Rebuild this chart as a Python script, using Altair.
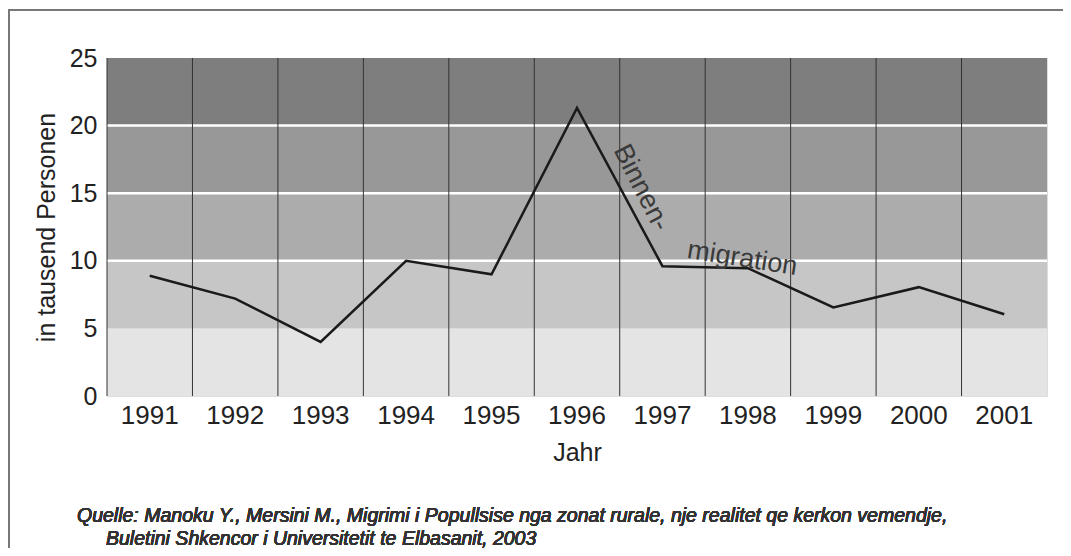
import altair as alt
import pandas as pd

years = ["1991", "1992", "1993", "1994", "1995", "1996", "1997", "1998", "1999", "2000", "2001"]
values = [8.9, 7.2, 4.0, 10.0, 9.0, 21.3, 9.6, 9.45, 6.55, 8.05, 6.05]

band_lo = [0, 5, 10, 15, 20]
band_hi = [5, 10, 15, 20, 25]
band_colors = ["#e4e4e4", "#c6c6c6", "#acacac", "#989898", "#7e7e7e"]
separators = [10, 15, 20]

ann_text = ["Binnen-", "migration"]
ann_year = ["1996", "1997"]
ann_value = [15.3, 10.2]

W, H = 940, 338

df = pd.DataFrame({"year": years, "value": values})
bands = pd.DataFrame({"lo": band_lo, "hi": band_hi, "c": band_colors})
seps = pd.DataFrame({"v": separators})
ann = pd.DataFrame({"t": ann_text, "year": ann_year, "value": ann_value})

xs = alt.Scale(domain=years, paddingInner=0, paddingOuter=0)
ys = alt.Scale(domain=[0, 25], nice=False)

font = "Liberation Sans"

rects = alt.Chart(bands).mark_rect().encode(
    x=alt.value(0), x2=alt.value(W),
    y=alt.Y("lo:Q", scale=ys, axis=alt.Axis(values=[0, 5, 10, 15, 20, 25], ticks=False, domain=False,
                                           grid=False, labelFontSize=25, labelPadding=10,
                                           labelColor="#222", title="in tausend Personen",
                                           titleFontSize=25, titleFontWeight="normal",
                                           titleColor="#222", titlePadding=10)),
    y2="hi:Q",
    color=alt.Color("c:N", scale=None),
)

sep_rules = alt.Chart(seps).mark_rule(color="white", strokeWidth=2.5).encode(
    y=alt.Y("v:Q", scale=ys), x=alt.value(0), x2=alt.value(W)
)

vlines = alt.Chart(df).mark_rule(color="#333", strokeWidth=1).encode(
    x=alt.X("year:O", scale=xs, bandPosition=0,
            axis=alt.Axis(labelAngle=0, ticks=False, domain=False, labelFontSize=26,
                          labelPadding=6, labelColor="#222", title="Jahr", titleFontSize=25,
                          titleFontWeight="normal", titleColor="#222", titlePadding=12)),
)

line = alt.Chart(df).mark_line(color="#1a1a1a", strokeWidth=2.5).encode(
    x=alt.X("year:O", scale=xs),
    y=alt.Y("value:Q", scale=ys),
)

ann1 = alt.Chart(ann.iloc[[0]]).mark_text(
    font=font, fontSize=27, angle=63, dx=28, dy=-58, align="center", baseline="middle",
    color="#3a3a3a"
).encode(x=alt.X("year:O", scale=xs), y=alt.Y("value:Q", scale=ys), text="t:N")

ann2 = alt.Chart(ann.iloc[[1]]).mark_text(
    font=font, fontSize=27, angle=9, dx=79, dy=-12, align="center", baseline="middle",
    color="#3a3a3a"
).encode(x=alt.X("year:O", scale=xs), y=alt.Y("value:Q", scale=ys), text="t:N")

frame = alt.Chart(df).mark_rect(fill=None, stroke="#777", strokeWidth=2).encode(
    x=alt.value(-98), x2=alt.value(957), y=alt.value(-48), y2=alt.value(520)
)

src1 = alt.Chart(df).mark_text(
    text="Quelle: Manoku Y., Mersini M., Migrimi i Popullsise nga zonat rurale, nje realitet qe kerkon vemendje,",
    font=font, fontSize=19.5, fontStyle="italic", align="left", baseline="middle", color="#333"
).encode(x=alt.value(-30), y=alt.value(458))

src2 = alt.Chart(df).mark_text(
    text="Buletini Shkencor i Universitetit te Elbasanit, 2003",
    font=font, fontSize=19.5, fontStyle="italic", align="left", baseline="middle", color="#333"
).encode(x=alt.value(-1), y=alt.value(481))

chart = alt.layer(rects, sep_rules, vlines, line, ann1, ann2, frame, src1, src2).properties(
    width=W, height=H,
    autosize=alt.AutoSizeParams(type="none"),
    padding={"left": 99, "top": 50, "right": 16, "bottom": 152},
).configure_view(stroke="#222", strokeWidth=2).configure(font=font)

chart.save("out.html", embed_options={"renderer": "svg", "actions": False})
